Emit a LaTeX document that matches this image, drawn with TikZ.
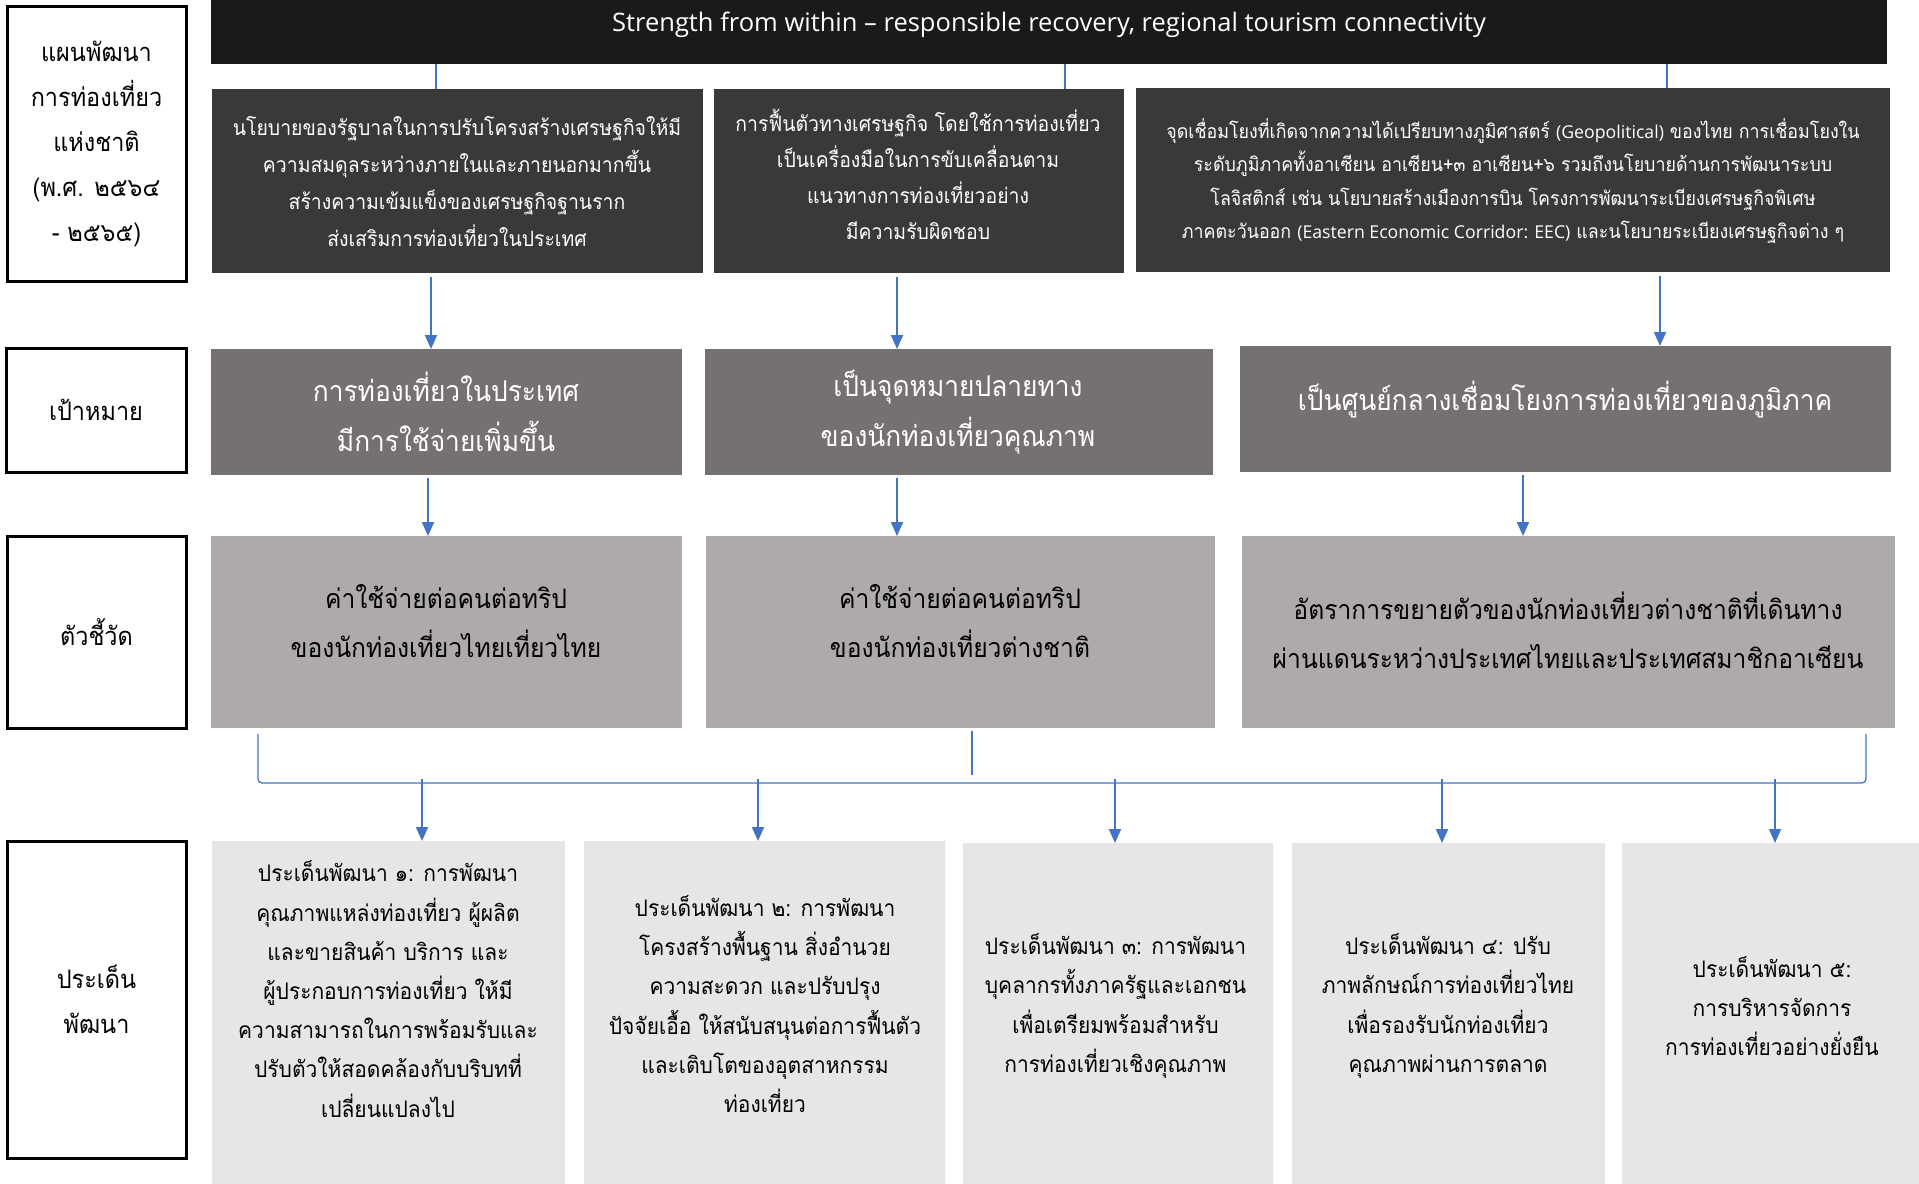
\documentclass[tikz,border=0pt]{standalone}
\usepackage{fontspec}
\setmainfont{Open Sans}
\newfontfamily\thai[Script=Thai,FakeStretch=0.92]{Loma}
\newfontfamily\eng{Open Sans}
\usetikzlibrary{arrows.meta}
\definecolor{barblack}{HTML}{1A1A1A}
\definecolor{pol}{HTML}{3B3838}
\definecolor{goalc}{HTML}{767171}
\definecolor{indc}{HTML}{AEAAAA}
\definecolor{issc}{HTML}{E7E6E6}
\definecolor{arr}{HTML}{4472C4}
\tikzset{
  box/.style={rectangle, inner sep=0pt, outer sep=0pt, draw=none},
  lab/.style={rectangle, draw=black, line width=3pt, fill=white, inner sep=0pt, align=center,
    font=\thai\fontsize{25.5}{45}\selectfont},
  txt/.style={inner sep=0pt, align=center},
  flow/.style={draw=arr, line width=2pt, -{Triangle[length=14pt,width=12pt]}},
  link/.style={draw=arr, line width=1.3pt},
}
\begin{document}
\begin{tikzpicture}[x=1pt,y=-1pt]
\useasboundingbox (0,0) rectangle (1919,1183);
% left labels
\node[lab, minimum width=179pt, minimum height=275pt] (lab1) at (96.5,143.5) {แผนพัฒนา\\การท่องเที่ยว\\แห่งชาติ\\(พ.ศ. ๒๕๖๔\\- ๒๕๖๕)};
\node[lab, minimum width=180pt, minimum height=124pt] (lab2) at (96,410) {เป้าหมาย};
\node[lab, minimum width=179pt, minimum height=192pt] (lab3) at (96.5,632) {ตัวชี้วัด};
\node[lab, minimum width=179pt, minimum height=317pt] (lab4) at (96.5,999.5) {ประเด็น\\พัฒนา};
% top bar
\node[box, fill=barblack, minimum width=1676pt, minimum height=64pt] (bar) at (1049,32) {};
\node[txt, text=white, font=\eng\fontsize{25.5}{30}\selectfont] (bart) at (1049,25) {Strength from within – responsible recovery, regional tourism connectivity};
% policy boxes
\node[box, fill=pol, minimum width=491pt, minimum height=184pt] (p1) at (457.5,181) {};
\node[box, fill=pol, minimum width=410pt, minimum height=184pt] (p2) at (919,181) {};
\node[box, fill=pol, minimum width=754pt, minimum height=184pt] (p3) at (1513,180) {};
\node[txt, text=white, font=\thai\fontsize{21.1}{37}\selectfont] (p1t) at (457,182) {นโยบายของรัฐบาลในการปรับโครงสร้างเศรษฐกิจให้มี\\ความสมดุลระหว่างภายในและภายนอกมากขึ้น\\สร้างความเข้มแข็งของเศรษฐกิจฐานราก\\ส่งเสริมการท่องเที่ยวในประเทศ};
\node[txt, text=white, font=\thai\fontsize{21.1}{36}\selectfont] (p2t) at (918,174) {การฟื้นตัวทางเศรษฐกิจ โดยใช้การท่องเที่ยว\\เป็นเครื่องมือในการขับเคลื่อนตาม\\แนวทางการท่องเที่ยวอย่าง\\มีความรับผิดชอบ};
\node[txt, text=white, font=\thai\fontsize{19.4}{33.5}\selectfont] (p3t) at (1513,181) {จุดเชื่อมโยงที่เกิดจากความได้เปรียบทางภูมิศาสตร์ {\eng\fontsize{17.7}{33.5}\selectfont(Geopolitical)} ของไทย การเชื่อมโยงใน\\ระดับภูมิภาคทั้งอาเซียน อาเซียน+๓ อาเซียน+๖ รวมถึงนโยบายด้านการพัฒนาระบบ\\โลจิสติกส์ เช่น นโยบายสร้างเมืองการบิน โครงการพัฒนาระเบียงเศรษฐกิจพิเศษ\\ภาคตะวันออก {\eng\fontsize{17.7}{33.5}\selectfont(Eastern Economic Corridor: EEC)} และนโยบายระเบียงเศรษฐกิจต่าง ๆ};
% bar to policy connectors
\coordinate (t1) at (436,0);
\coordinate (t2) at (1065,0);
\coordinate (t3) at (1667,0);
\draw[link] (t1 |- bar.south) -- (t1 |- p1.north);
\draw[link] (t2 |- bar.south) -- (t2 |- p2.north);
\draw[link] (t3 |- bar.south) -- (t3 |- p3.north);
% goal boxes
\node[box, fill=goalc, minimum width=471pt, minimum height=126pt] (g1) at (446.5,412) {};
\node[box, fill=goalc, minimum width=508pt, minimum height=126pt] (g2) at (959,412) {};
\node[box, fill=goalc, minimum width=651pt, minimum height=126pt] (g3) at (1565.5,409) {};
\node[txt, text=white, font=\thai\fontsize{28.6}{50}\selectfont] (g1t) at (446,412) {การท่องเที่ยวในประเทศ\\มีการใช้จ่ายเพิ่มขึ้น};
\node[txt, text=white, font=\thai\fontsize{28.6}{50}\selectfont] (g2t) at (958,412) {เป็นจุดหมายปลายทาง\\ของนักท่องเที่ยวคุณภาพ};
\node[txt, text=white, font=\thai\fontsize{28.6}{50}\selectfont] (g3t) at (1565,400) {เป็นศูนย์กลางเชื่อมโยงการท่องเที่ยวของภูมิภาค};
% policy to goal arrows
\coordinate (pa1) at (431,277);
\coordinate (pa2) at (897,277);
\coordinate (pa3) at (1660,276);
\draw[flow] (pa1) -- (pa1 |- g1.north);
\draw[flow] (pa2) -- (pa2 |- g2.north);
\draw[flow] (pa3) -- (pa3 |- g3.north);
% indicator boxes
\node[box, fill=indc, minimum width=471pt, minimum height=192pt] (i1) at (446.5,632) {};
\node[box, fill=indc, minimum width=509pt, minimum height=192pt] (i2) at (960.5,632) {};
\node[box, fill=indc, minimum width=653pt, minimum height=192pt] (i3) at (1568.5,632) {};
\node[txt, text=black, font=\thai\fontsize{26.8}{49}\selectfont] (i1t) at (446,621) {ค่าใช้จ่ายต่อคนต่อทริป\\ของนักท่องเที่ยวไทยเที่ยวไทย};
\node[txt, text=black, font=\thai\fontsize{26.8}{49}\selectfont] (i2t) at (960,621) {ค่าใช้จ่ายต่อคนต่อทริป\\ของนักท่องเที่ยวต่างชาติ};
\node[txt, text=black, font=\thai\fontsize{26.8}{49}\selectfont] (i3t) at (1568,630) {อัตราการขยายตัวของนักท่องเที่ยวต่างชาติที่เดินทาง\\ผ่านแดนระหว่างประเทศไทยและประเทศสมาชิกอาเซียน};
% goal to indicator arrows
\coordinate (ga1) at (428,478);
\coordinate (ga2) at (897,478);
\coordinate (ga3) at (1523,475);
\draw[flow] (ga1) -- (ga1 |- i1.north);
\draw[flow] (ga2) -- (ga2 |- i2.north);
\draw[flow] (ga3) -- (ga3 |- i3.north);
% bracket
\coordinate (brL) at (258,783);
\coordinate (brR) at (1866,783);
\coordinate (bm) at (972,775);
\draw[link, rounded corners=4pt] (brL |- 0,734) -- (brL) -- (brR) -- (brR |- 0,734);
\draw[link] (bm |- i2.south) ++(0,3) -- (bm);
% issue boxes
\node[box, fill=issc, minimum width=353pt, minimum height=350pt] (b1) at (388.5,1016) {};
\node[box, fill=issc, minimum width=361pt, minimum height=350pt] (b2) at (764.5,1016) {};
\node[box, fill=issc, minimum width=310pt, minimum height=348pt] (b3) at (1118,1017) {};
\node[box, fill=issc, minimum width=313pt, minimum height=348pt] (b4) at (1448.5,1017) {};
\node[box, fill=issc, minimum width=297pt, minimum height=348pt] (b5) at (1770.5,1017) {};
\node[txt, text=black, font=\thai\fontsize{22.8}{39.2}\selectfont] (b1t) at (388,989) {ประเด็นพัฒนา ๑: การพัฒนา\\คุณภาพแหล่งท่องเที่ยว ผู้ผลิต\\และขายสินค้า บริการ และ\\ผู้ประกอบการท่องเที่ยว ให้มี\\ความสามารถในการพร้อมรับและ\\ปรับตัวให้สอดคล้องกับบริบทที่\\เปลี่ยนแปลงไป};
\node[txt, text=black, font=\thai\fontsize{22.8}{39.2}\selectfont] (b2t) at (765,1004) {ประเด็นพัฒนา ๒: การพัฒนา\\โครงสร้างพื้นฐาน สิ่งอำนวย\\ความสะดวก และปรับปรุง\\ปัจจัยเอื้อ ให้สนับสนุนต่อการฟื้นตัว\\และเติบโตของอุตสาหกรรม\\ท่องเที่ยว};
\node[txt, text=black, font=\thai\fontsize{22.8}{39.2}\selectfont] (b3t) at (1115.5,1006) {ประเด็นพัฒนา ๓: การพัฒนา\\บุคลากรทั้งภาครัฐและเอกชน\\เพื่อเตรียมพร้อมสำหรับ\\การท่องเที่ยวเชิงคุณภาพ};
\node[txt, text=black, font=\thai\fontsize{22.8}{39.2}\selectfont] (b4t) at (1448,1006) {ประเด็นพัฒนา ๔: ปรับ\\ภาพลักษณ์การท่องเที่ยวไทย\\เพื่อรองรับนักท่องเที่ยว\\คุณภาพผ่านการตลาด};
\node[txt, text=black, font=\thai\fontsize{22.8}{39.2}\selectfont] (b5t) at (1772,1006) {ประเด็นพัฒนา ๕:\\การบริหารจัดการ\\การท่องเที่ยวอย่างยั่งยืน};
% bracket to issue arrows
\coordinate (ba1) at (422,779);
\coordinate (ba2) at (758,779);
\coordinate (ba3) at (1115,779);
\coordinate (ba4) at (1442,779);
\coordinate (ba5) at (1775,779);
\draw[flow] (ba1) -- (ba1 |- b1.north);
\draw[flow] (ba2) -- (ba2 |- b2.north);
\draw[flow] (ba3) -- (ba3 |- b3.north);
\draw[flow] (ba4) -- (ba4 |- b4.north);
\draw[flow] (ba5) -- (ba5 |- b5.north);
\end{tikzpicture}
\end{document}
